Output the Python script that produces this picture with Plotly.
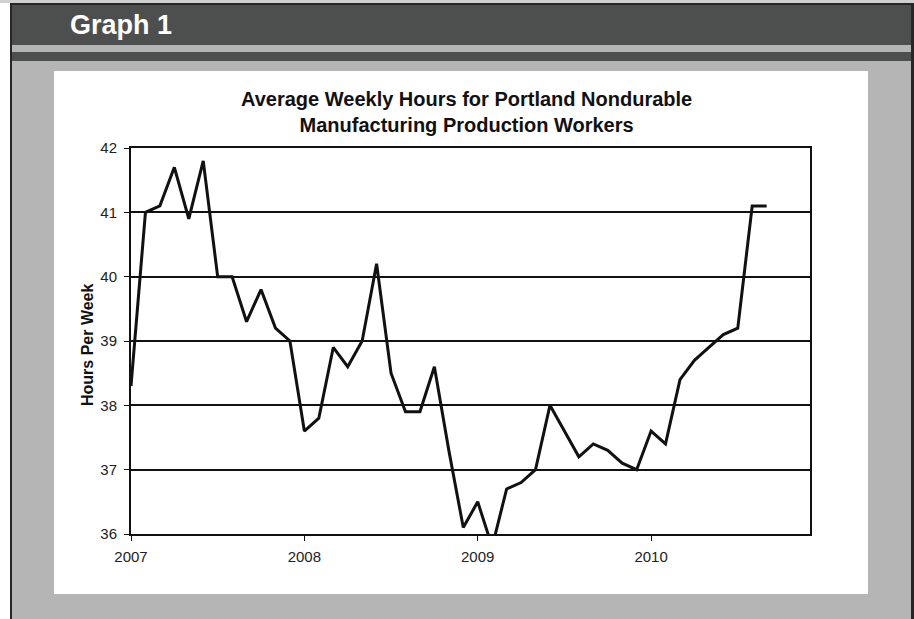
import plotly.graph_objects as go

# ---- data (monthly, Jan 2007 - Sep 2010) ----
month_index = list(range(45))
hours = [
    38.3, 41.0, 41.1, 41.7, 40.9, 41.8, 40.0, 40.0, 39.3, 39.8, 39.2, 39.0,   # 2007
    37.6, 37.8, 38.9, 38.6, 39.0, 40.2, 38.5, 37.9, 37.9, 38.6, 37.3, 36.1,   # 2008
    36.5, 35.8, 36.7, 36.8, 37.0, 38.0, 37.6, 37.2, 37.4, 37.3, 37.1, 37.0,   # 2009
    37.6, 37.4, 38.4, 38.7, 38.9, 39.1, 39.2, 41.1, 41.1,                     # 2010
]
year_tickvals = [0, 12, 24, 36]
year_labels = ["2007", "2008", "2009", "2010"]
y_ticks = [36, 37, 38, 39, 40, 41, 42]
title_lines = ["Average Weekly Hours for Portland Nondurable",
               "Manufacturing Production Workers"]

W, H = 914, 619
L, R, T, B = 131, 810, 148, 534
PW, PH = R - L, B - T

def px(x):
    return (x - L) / PW

def py(y):
    return 1 - (y - T) / PH

def rect(x0, y0, x1, y1, color):
    return dict(type="rect", xref="paper", yref="paper", layer="below",
                x0=px(x0), x1=px(x1), y0=py(y1), y1=py(y0),
                fillcolor=color, line=dict(width=0))

DARK = "#4d4f4e"
LIGHT = "#b4b5b4"
FONT = "Liberation Sans, Arial, sans-serif"

shapes = [
    rect(0, 0, 914, 3, "#cfd0cf"),
    rect(10, 3, 914, 619, "#262626"),
    rect(12, 5, 911, 619, DARK),
    rect(12, 45, 911, 52, LIGHT),
    rect(12, 61, 911, 619, LIGHT),
    rect(54, 71, 868, 594, "#ffffff"),
]

fig = go.Figure()
fig.add_trace(go.Scatter(
    x=month_index, y=hours, mode="lines",
    line=dict(color="#111111", width=3),
    hoverinfo="skip", showlegend=False,
))

annotations = [
    dict(text="<b>Graph 1</b>", xref="paper", yref="paper",
         x=px(68), y=py(25), xanchor="left", yanchor="middle",
         showarrow=False, font=dict(size=27, color="#ffffff", family=FONT)),
    dict(text="<b>Hours Per Week</b>", xref="paper", yref="paper",
         x=px(87), y=py(345), xanchor="center", yanchor="middle",
         textangle=-90, showarrow=False,
         font=dict(size=16, color="#111111", family=FONT)),
    dict(text="<b>" + "<br>".join(title_lines) + "</b>",
         xref="paper", yref="paper", x=px(466), y=py(112),
         xanchor="center", yanchor="middle", showarrow=False,
         font=dict(size=20, color="#111111", family=FONT)),
]

fig.update_layout(
    width=W, height=H,
    margin=dict(l=L, r=W - R, t=T, b=H - B),
    paper_bgcolor="#ffffff", plot_bgcolor="#ffffff",
    shapes=shapes,
    showlegend=False,
    font=dict(family=FONT, color="#222222", size=15),
    xaxis=dict(
        range=[0, 47], tickvals=year_tickvals, ticktext=year_labels,
        showgrid=False, zeroline=False,
        showline=True, linecolor="#111111", linewidth=2, mirror=True,
        ticks="outside", ticklen=5, tickcolor="#111111", tickwidth=1,
        ticklabelstandoff=3,
        tickfont=dict(size=15, family=FONT, color="#222222"),
    ),
    yaxis=dict(
        range=[36, 42], tickvals=y_ticks,
        showgrid=True, gridcolor="#111111", gridwidth=2, zeroline=False,
        showline=True, linecolor="#111111", linewidth=2, mirror=True,
        ticks="outside", ticklen=5, tickcolor="#111111", tickwidth=1,
        ticklabelstandoff=4,
        tickfont=dict(size=15, family=FONT, color="#222222"),
    ),
    annotations=annotations,
)

fig.write_html("out.html")
